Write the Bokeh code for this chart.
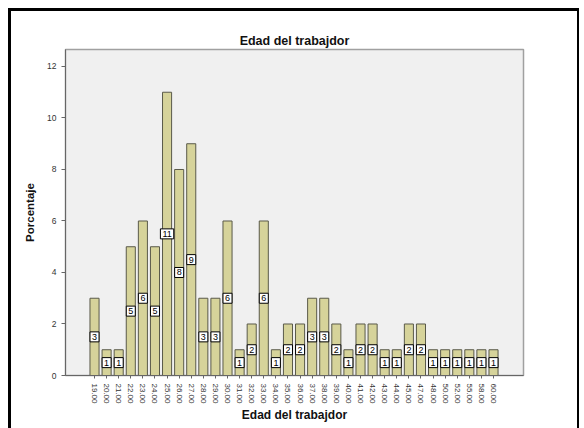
from bokeh.plotting import figure
from bokeh.models import ColumnDataSource, FixedTicker, Range1d
from bokeh.core.properties import value
from bokeh.embed import file_html
from bokeh.resources import INLINE

ages = ["19.00", "20.00", "21.00", "22.00", "23.00", "24.00", "25.00", "26.00", "27.00",
        "28.00", "29.00", "30.00", "31.00", "32.00", "33.00", "34.00", "35.00", "36.00",
        "37.00", "38.00", "39.00", "40.00", "41.00", "42.00", "43.00", "44.00", "45.00",
        "47.00", "48.00", "50.00", "52.00", "55.00", "58.00", "60.00"]
percent = [3, 1, 1, 5, 6, 5, 11, 8, 9, 3, 3, 6, 1, 2, 6, 1, 2, 2, 3, 3, 2, 1, 2, 2,
           1, 1, 2, 2, 1, 1, 1, 1, 1, 1]
yticks = [0, 2, 4, 6, 8, 10, 12]

idx = list(range(len(ages)))
src = ColumnDataSource(dict(x=idx, top=percent, mid=[v / 2 for v in percent],
                            lbl=[str(v) for v in percent]))

font = "Liberation Sans"
p = figure(width=566, height=417, output_backend="svg", toolbar_location=None,
           x_range=Range1d(-2.4, len(ages) - 1 + 2.48), y_range=Range1d(0, 12.66),
           frame_width=458, frame_height=326,
           min_border_left=54, min_border_top=38, min_border_right=54, min_border_bottom=53,
           title="Edad del trabajdor")
p.styles = {"margin": "8px 0 0 8px", "border-top": "3px solid black",
            "border-left": "3px solid black", "border-right": "2px solid black"}
p.background_fill_color = "#f0f0f0"
p.border_fill_color = "white"
p.outline_line_color = "#a0a0a0"
p.outline_line_width = 1.5
p.grid.visible = False

p.title.align = "center"
p.title.text_font = font
p.title.text_font_size = "12.5px"
p.title.text_font_style = "bold"
p.title.text_color = "#111111"
p.title.offset = 0
p.title.standoff = 3

p.vbar(x="x", top="top", width=0.75, source=src, fill_color="#d6d39a",
       line_color="#5a5a4a", line_width=1)

p.text(x="x", y="mid", text="lbl", source=src, text_align="center",
       text_baseline="middle", text_font=value(font), text_font_size="9px",
       text_color="black", background_fill_color="white",
       border_line_color="black", border_line_width=1, padding=2)

ya = p.yaxis[0]
ya.ticker = FixedTicker(ticks=yticks)
ya.axis_label = "Porcentaje"
ya.axis_label_text_font = font
ya.axis_label_text_font_size = "11.5px"
ya.axis_label_text_font_style = "bold"
ya.axis_label_text_color = "#111111"
ya.axis_label_standoff = 8
ya.major_label_text_font = font
ya.major_label_text_font_size = "8.5px"
ya.major_label_text_color = "#333333"
ya.major_tick_in = 0
ya.major_tick_out = 4
ya.minor_tick_line_color = None
ya.axis_line_color = "#666666"
ya.major_tick_line_color = "#666666"

xa = p.xaxis[0]
xa.ticker = FixedTicker(ticks=idx)
xa.major_label_overrides = {i: a for i, a in zip(idx, ages)}
xa.major_label_orientation = -1.5708
xa.axis_label = "Edad del trabajdor"
xa.axis_label_text_font = font
xa.axis_label_text_font_size = "12px"
xa.axis_label_text_font_style = "bold"
xa.axis_label_text_color = "#111111"
xa.axis_label_standoff = 1
xa.major_label_text_font = font
xa.major_label_text_font_size = "8px"
xa.major_label_text_color = "#333333"
xa.major_tick_in = 0
xa.major_tick_out = 3
xa.minor_tick_line_color = None
xa.axis_line_color = "#666666"
xa.major_tick_line_color = "#666666"

open("out.html", "w").write(file_html(p, INLINE))
